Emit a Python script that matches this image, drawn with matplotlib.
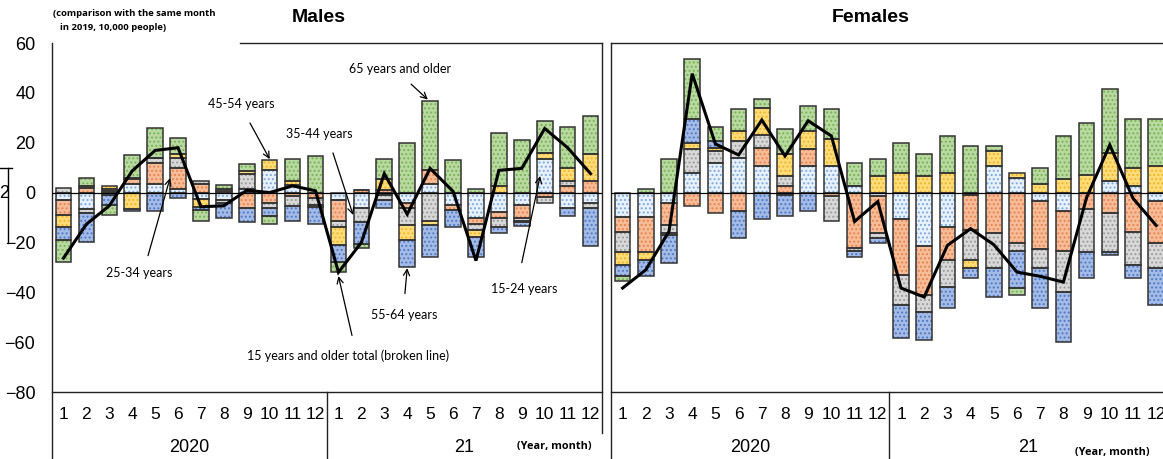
import numpy as np
import matplotlib
matplotlib.use("Agg")
import matplotlib.pyplot as plt
import matplotlib.transforms as mtransforms

# ---- data (change vs same month of 2019, 10,000 people) ----
months = [str(m) for m in range(1, 13)] * 2
years = ["2020", "21"]
age_groups = ["15-24", "25-34", "35-44", "45-54", "55-64", "65+"]

# Males
m_15_24 = [-2.9, -6.7, -0.8, 3.6, 3.6, 1.6, -2.7, -3.0, 1.5, 9.1, 3.0, 0.0,
           -2.9, -6.0, -1.0, -4.0, 3.3, -4.9, -10.0, -7.6, -4.9, 13.3, -6.0, -4.0]
m_25_34 = [-6.1, 2.0, 0.5, 2.0, 8.4, 8.4, 3.6, 0.5, -6.0, -4.0, -1.5, -2.0,
           -8.4, 1.0, 1.0, -2.0, 5.7, -2.1, -2.7, -2.7, -5.3, -1.6, 2.7, 4.7]
m_35_44 = [1.7, -1.6, 0.8, 0.3, 1.7, 4.0, 1.1, -1.3, 6.0, -2.0, -4.0, -2.9,
           -2.4, -6.0, -2.0, -6.9, -11.3, 0.0, -2.4, -3.7, -1.3, -2.4, 2.0, -2.0]
m_45_54 = [-4.9, 0.8, 1.2, -6.7, 0.0, 1.6, -3.1, 1.1, 1.0, 4.0, 1.7, -1.0,
           -7.3, 0.0, 4.3, -6.1, -1.6, 0.0, -2.9, 2.7, -0.5, 2.4, 5.3, 10.9]
m_55_64 = [-5.3, -11.7, -4.0, -0.7, -7.3, -2.0, -1.3, -6.0, -6.0, -3.3, -6.0, -6.9,
           -6.9, -8.7, -3.1, -10.9, -13.1, -6.9, -8.0, -2.3, -1.3, 0.0, -3.3, -15.3]
m_65 = [-8.7, 2.9, -4.0, 9.1, 12.3, 6.1, -4.3, 1.6, 2.9, -3.3, 8.8, 14.5,
        -4.0, -1.6, 8.0, 19.7, 27.9, 13.2, 1.3, 21.3, 20.9, 12.9, 16.4, 15.1]
m_total = [-26.3, -12.7, -5.3, 8.7, 16.9, 18.0, -5.7, -5.3, 0.9, 0.0, 2.7, 0.7,
           -32.0, -20.0, 7.6, -8.7, 9.7, 0.5, -27.3, 8.9, 9.7, 25.7, 18.0, 7.6]

# Females
f_15_24 = [-9.6, -9.6, -4.3, 7.7, 11.7, 13.7, 10.7, -0.9, 10.7, 10.8, 2.7, -1.2,
           -10.5, -21.3, -14.0, -0.9, 10.8, 5.7, -3.2, -7.3, 0.0, 4.7, 2.7, -3.2]
f_25_34 = [-6.4, -14.3, -8.7, -5.2, -8.3, -7.2, 7.1, 2.7, 6.8, -1.2, -22.3, -15.1,
           -22.7, -19.6, -12.9, -14.0, -16.3, -20.3, -19.3, -16.0, -6.5, -8.3, -16.0, -17.1]
f_35_44 = [-7.9, 0.0, -3.1, 9.7, 4.9, 7.1, 5.1, 4.0, 0.0, -10.1, -1.1, -2.0,
           -12.1, -6.9, -11.1, -12.0, -14.0, -3.1, -7.7, -16.7, -17.3, -15.6, -13.2, -10.0]
f_45_54 = [-5.1, -3.1, -0.9, 2.3, 1.1, 4.0, 10.9, 8.7, 7.3, 10.8, 0.0, 6.7,
           7.7, 6.7, 7.7, -3.3, 6.0, 2.0, 3.5, 5.5, 6.9, 11.1, 7.3, 10.8]
f_55_64 = [-4.3, -6.3, -11.1, 9.7, 3.1, -11.1, -10.5, -8.4, -7.2, 0.0, -2.5, -2.0,
           -12.9, -11.3, -8.3, -4.0, -11.7, -14.7, -16.0, -19.9, -10.4, -1.1, -5.1, -14.9]
f_65 = [-2.0, 1.6, 13.6, 24.0, 5.6, 8.9, 3.6, 10.0, 9.9, 12.0, 9.1, 6.9,
        12.0, 8.9, 15.1, 18.7, 1.9, -2.9, 6.3, 17.3, 20.9, 25.7, 19.5, 18.7]
f_total = [-38.3, -31.0, -15.6, 47.7, 19.5, 15.1, 29.1, 14.7, 28.8, 22.7, -11.6, -3.6,
           -38.3, -41.9, -21.2, -14.5, -20.9, -31.9, -33.6, -35.9, -2.0, 19.1, -2.3, -13.2]

# ---- styles ----
face_colors = ["#e8f1fb", "#f6bc98", "#d8d8d8", "#ffdc78", "#a3bbe6", "#b8d9a0"]
dot_colors = ["#7aa9dc", "#e9824e", "#9b9b9b", "#eeb52c", "#4f78c6", "#79b157"]
edge_col = "#333333"
W, H = 1163, 459

plt.rcParams["font.family"] = ["Liberation Sans", "DejaVu Sans"]
plt.rcParams["hatch.linewidth"] = 0.9

fig = plt.figure(figsize=(W / 100, H / 100), dpi=100)


def fx(px):
    return px / W


def fy(py):
    return 1 - py / H


ax_m = fig.add_axes([fx(52), fy(392), 550 / W, 349 / H])
ax_f = fig.add_axes([fx(611), fy(392), 24 * 23.2 / W, 349 / H])


def draw_bars(ax, series):
    x = np.arange(24)
    pos = np.zeros(24)
    neg = np.zeros(24)
    for vals, face, dots in zip(series, face_colors, dot_colors):
        vals = np.array(vals)
        bottom = np.where(vals >= 0, pos, neg)
        ax.bar(x, vals, bottom=bottom, width=0.68, color=face, linewidth=0, zorder=2)
        ax.bar(x, vals, bottom=bottom, width=0.68, color="none", edgecolor=dots,
               hatch="....", linewidth=0, zorder=2.1)
        ax.bar(x, vals, bottom=bottom, width=0.68, color="none", edgecolor=edge_col,
               linewidth=1.1, zorder=2.2)
        pos = pos + np.where(vals > 0, vals, 0)
        neg = neg + np.where(vals < 0, vals, 0)
    return pos, neg


def setup_axis(ax, bottom_ext, left_ext, right_ext, top_from):
    ax.set_xlim(-0.5, 23.5)
    ax.set_ylim(-80, 60)
    for s in ax.spines.values():
        s.set_visible(False)
    tr = ax.transAxes
    ax.plot([top_from, 1], [1, 1], transform=tr, color="#222222", lw=1.0, clip_on=False)
    ax.plot([0, 1], [0, 0], transform=tr, color="#222222", lw=1.0, clip_on=False)
    ax.plot([0, 0], [1, -left_ext], transform=tr, color="#222222", lw=1.0, clip_on=False)
    if right_ext is not None:
        ax.plot([1, 1], [1, -right_ext], transform=tr, color="#222222", lw=1.0, clip_on=False)
    bt = mtransforms.blended_transform_factory(ax.transData, ax.transAxes)
    ax.plot([11.5, 11.5], [0, -bottom_ext], transform=bt, color="#222222", lw=1.0, clip_on=False)
    ax.axhline(0, color="black", lw=0.9, zorder=3)
    ax.set_xticks(range(24))
    ax.set_xticklabels(months, fontsize=12.5)
    ax.tick_params(axis="x", length=0, pad=11)
    ax.text(5.5, -0.158, years[0], transform=bt, ha="center", va="center", fontsize=13)
    ax.text(17.5, -0.158, years[1], transform=bt, ha="center", va="center", fontsize=13)


x = np.arange(24)

# Males
pos_m, neg_m = draw_bars(ax_m, [m_15_24, m_25_34, m_35_44, m_45_54, m_55_64, m_65])
ax_m.plot(x, m_total, color="black", lw=2.2, zorder=5, solid_joinstyle="miter")
setup_axis(ax_m, 0.195, 0.195, 0.118, (240 - 52) / 550)
ax_m.set_yticks(range(-80, 61, 20))
ax_m.set_yticklabels([str(v).replace("-", "\u2212") for v in range(-80, 61, 20)], fontsize=13)
ax_m.tick_params(axis="y", length=0, pad=12)

# Females
draw_bars(ax_f, [f_15_24, f_25_34, f_35_44, f_45_54, f_55_64, f_65])
ax_f.plot(x, f_total, color="black", lw=2.2, zorder=5, solid_joinstyle="miter")
setup_axis(ax_f, 0.195, 0.195, None, 0)
ax_f.set_yticks([])

# ---- annotations on the male panel ----
afont = dict(family=["Lato", "DejaVu Sans"], fontsize=9, ha="center", va="center")
arrow = dict(arrowstyle="->", color="black", lw=0.9, shrinkA=0, shrinkB=0, mutation_scale=11)

notes = [
    ("65 years and older", (14.69, 49.5), (15.17, 43.5), (15.9, pos_m[16] + 0.4)),
    ("45-54 years", (7.75, 35.5), (8.14, 27.9), (9.0, pos_m[9] + 0.3)),
    ("35-44 years", (11.15, 23.5), (11.76, 15.9), (12.64, m_15_24[13] + m_35_44[13] / 2)),
    ("25-34 years", (3.30, -32.1), (3.69, -25.3), (4.65, m_15_24[5] + m_25_34[5] / 2)),
    ("55-64 years", (14.86, -49.3), (14.9, -40.5), (15.0, neg_m[15] - 0.4)),
    ("15-24 years", (20.1, -38.5), (20.0, -28.1), (20.8, m_15_24[21] / 2)),
    ("15 years and older total (broken line)", (12.42, -65.3), (12.59, -57.3), (12.0, m_total[12] - 1.5)),
]
for label, txt, tail, tip in notes:
    ax_m.text(txt[0], txt[1], label, **afont, zorder=6)
    ax_m.annotate("", xy=tip, xytext=tail, arrowprops=arrow, zorder=6)

# ---- titles and notes ----
tfont = dict(family=["Liberation Sans", "DejaVu Sans"], fontsize=14, fontweight="bold",
             ha="center", va="center")
fig.text(fx(319), fy(18), "Males", **tfont)
fig.text(fx(871), fy(18), "Females", **tfont)
nfont = dict(family=["Open Sans", "DejaVu Sans"], fontsize=6.8, fontweight="bold", va="center")
fig.text(fx(53), fy(14), "(comparison with the same month", **nfont)
fig.text(fx(60), fy(27), "in 2019, 10,000 people)", **nfont)
yfont = dict(family=["Open Sans", "DejaVu Sans"], fontsize=7.8, fontweight="bold",
             va="center", ha="center")
fig.text(fx(554), fy(446), "(Year, month)", **yfont)
fig.text(fx(1112), fy(452), "(Year, month)", **yfont)

# cropped remains of a neighbouring chart at the far left edge
fig.text(fx(9), fy(193), "2", ha="right", va="center", fontsize=13)
fig.add_artist(plt.Line2D([fx(0), fx(12)], [fy(168), fy(168)], color="black", lw=1.0))
fig.add_artist(plt.Line2D([fx(8), fx(8)], [fy(168), fy(243)], color="black", lw=1.0))

fig.savefig("out.png", dpi=100)
